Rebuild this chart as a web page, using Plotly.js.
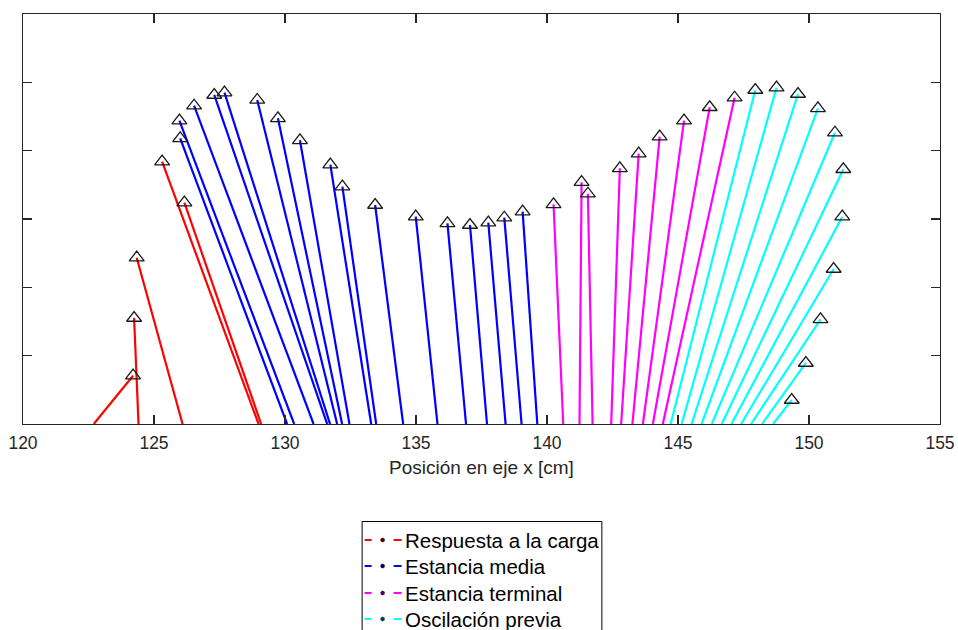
<!DOCTYPE html>
<html>
<head>
<meta charset="utf-8">
<script src="https://cdn.plot.ly/plotly-3.0.1.min.js"></script>
<style>html,body{margin:0;padding:0;background:#fff;overflow:hidden;}#chart{width:958px;height:630px;}</style>
</head>
<body>
<div id="chart"></div>
<script>
// Respuesta a la carga (red)
const redBaseX = [122.70, 124.41, 126.09, 128.99, 129.09];
const redTopX  = [124.20, 124.24, 124.34, 125.31, 126.16];
const redTopY  = [7.07, 15.51, 24.34, 38.39, 32.39];
// Estancia media (blue)
const blueBaseX = [130.08, 130.35, 131.09, 131.61, 131.72, 131.99, 132.18, 132.46, 133.29, 133.48, 134.51, 135.82, 136.91, 137.71, 138.42, 139.03, 139.63];
const blueTopX  = [126.00, 125.97, 126.53, 127.30, 127.69, 128.94, 129.73, 130.57, 131.73, 132.19, 133.44, 134.99, 136.20, 137.06, 137.76, 138.37, 139.07];
const blueTopY  = [41.81, 44.39, 46.58, 48.15, 48.49, 47.42, 44.74, 41.52, 37.95, 34.73, 32.05, 30.34, 29.37, 29.12, 29.46, 30.19, 31.07];
// Estancia terminal (magenta)
const magBaseX = [140.62, 141.24, 141.74, 142.45, 142.83, 143.26, 143.66, 144.04, 144.42];
const magTopX  = [140.25, 141.32, 141.56, 142.78, 143.50, 144.30, 145.23, 146.21, 147.16];
const magTopY  = [32.15, 35.39, 33.70, 37.42, 39.56, 42.05, 44.39, 46.35, 47.75];
// Oscilación previa (cyan)
const cyanBaseX = [144.72, 145.14, 145.52, 145.90, 146.29, 146.67, 147.04, 147.41, 147.79, 148.21, 148.63];
const cyanTopX  = [147.95, 148.76, 149.58, 150.34, 150.99, 151.31, 151.27, 150.94, 150.44, 149.88, 149.34];
const cyanTopY  = [48.88, 49.22, 48.29, 46.20, 42.63, 37.28, 30.34, 22.68, 15.32, 8.93, 3.51];

const legendNames = ['Respuesta a la carga', 'Estancia media', 'Estancia terminal', 'Oscilación previa'];
const lineColors = ['#ff0000', '#0000ff', '#ff00ff', '#00ffff'];
const dotColors = ['#4d0000', '#00004d', '#4d004d', '#003d3d'];

const groups = [
  {bx: redBaseX, tx: redTopX, ty: redTopY},
  {bx: blueBaseX, tx: blueTopX, ty: blueTopY},
  {bx: magBaseX, tx: magTopX, ty: magTopY},
  {bx: cyanBaseX, tx: cyanTopX, ty: cyanTopY}
];

const traces = [];
groups.forEach((g, k) => {
  const xs = [], ys = [];
  for (let i = 0; i < g.bx.length; i++) {
    xs.push(g.bx[i], g.tx[i], null);
    ys.push(0, g.ty[i], null);
  }
  traces.push({x: xs, y: ys, mode: 'lines', type: 'scatter', name: legendNames[k], showlegend: false,
    line: {color: lineColors[k], width: 2.2}, hoverinfo: 'skip'});
});
groups.forEach(g => {
  traces.push({x: g.tx, y: g.ty, mode: 'markers', type: 'scatter', showlegend: false,
    marker: {symbol: 'triangle-up-open', size: 13, color: '#1a1a1a', line: {width: 1.3, color: '#1a1a1a'}}});
});

// Custom legend (paper coordinates derived from plot-area pixels)
const L = 22.5, W = 918, B = 424, H = 410;
const px = v => (v - L) / W;
const py = v => (B - v) / H;
const shapes = [{type: 'rect', xref: 'paper', yref: 'paper', x0: px(362), x1: px(602), y0: py(521.5), y1: py(650),
  line: {color: '#000000', width: 1}, fillcolor: '#ffffff', layer: 'above'}];
const annotations = [];
const rowY = [540, 566, 593, 619];
legendNames.forEach((n, k) => {
  const yc = rowY[k];
  shapes.push({type: 'line', xref: 'paper', yref: 'paper', x0: px(364.5), x1: px(371.5), y0: py(yc), y1: py(yc), line: {color: lineColors[k], width: 2}, layer: 'above'});
  shapes.push({type: 'line', xref: 'paper', yref: 'paper', x0: px(393.5), x1: px(401.5), y0: py(yc), y1: py(yc), line: {color: lineColors[k], width: 2}, layer: 'above'});
  shapes.push({type: 'circle', xref: 'paper', yref: 'paper', x0: px(380.5), x1: px(384.5), y0: py(yc + 2), y1: py(yc - 2), line: {color: dotColors[k], width: 0.5}, fillcolor: dotColors[k], layer: 'above'});
  annotations.push({xref: 'paper', yref: 'paper', x: px(403), y: py(yc), xanchor: 'left', yanchor: 'middle',
    text: n, showarrow: false, font: {size: 20.5, color: '#000000', family: 'Liberation Sans, Arial, sans-serif'}});
});

const layout = {
  width: 958, height: 630,
  margin: {l: 22.5, r: 17.5, t: 14, b: 206, autoexpand: false},
  paper_bgcolor: '#ffffff', plot_bgcolor: '#ffffff',
  font: {family: 'Liberation Sans, Arial, sans-serif', color: '#262626'},
  xaxis: {
    range: [120, 155], dtick: 5, tick0: 120, showgrid: false, zeroline: false,
    showline: true, linecolor: '#262626', linewidth: 1.2, mirror: 'ticks',
    ticks: 'inside', ticklen: 9, tickwidth: 1.2, tickcolor: '#262626',
    tickfont: {size: 17.5, color: '#262626'}, ticklabelstandoff: 3,
    title: {text: 'Posición en eje x [cm]', font: {size: 19, color: '#262626'}, standoff: 8}
  },
  yaxis: {
    range: [0, 60], dtick: 10, showgrid: false, zeroline: false,
    showline: true, linecolor: '#262626', linewidth: 1.2, mirror: 'ticks',
    ticks: 'inside', ticklen: 9, tickwidth: 1.2, tickcolor: '#262626',
    showticklabels: false
  },
  showlegend: false,
  shapes: shapes,
  annotations: annotations
};

Plotly.newPlot('chart', traces, layout, {displayModeBar: false, staticPlot: true});
</script>
</body>
</html>
